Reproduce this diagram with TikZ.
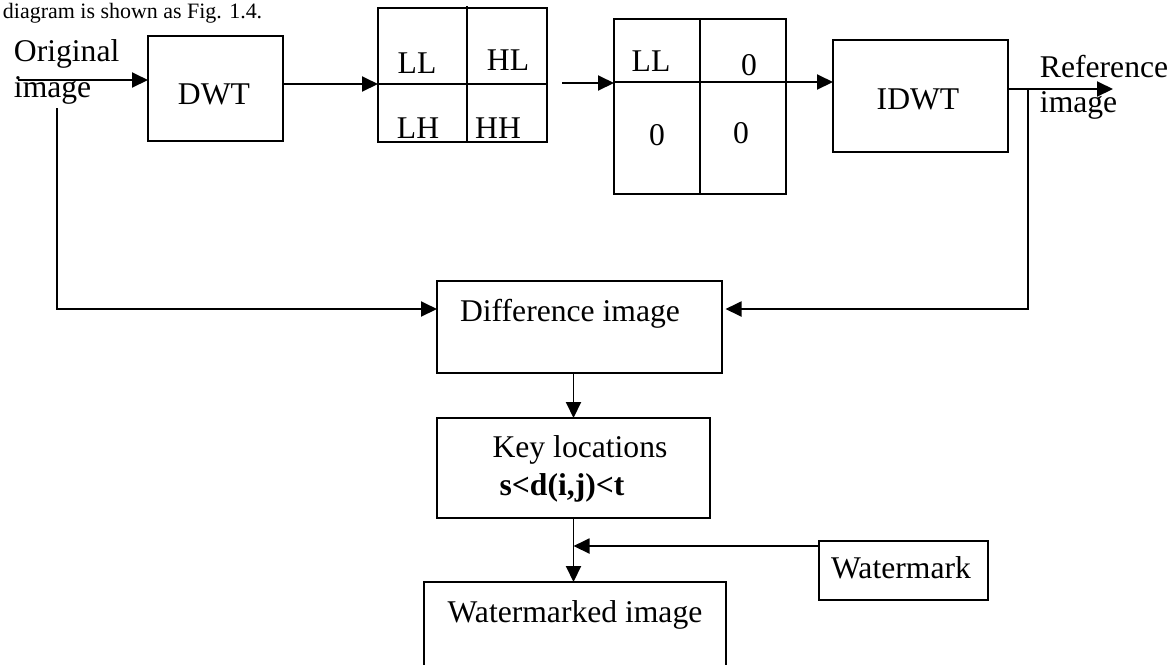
\documentclass[tikz,border=0pt]{standalone}
\usepackage{fontspec}
\setmainfont{Liberation Serif}
\usetikzlibrary{arrows.meta}
\tikzset{every picture/.style={line width=1.1pt}}
\def\pix{0.02cm}
\tikzset{
  box/.style 2 args={draw, inner sep=0pt, outer sep=0pt,
                     minimum width=#1*\pix, minimum height=#2*\pix},
  lbl/.style={anchor=base, inner sep=0pt},
  arr/.style={-{Triangle[length=3.2mm,width=3mm]}},
}

\begin{document}
\begin{tikzpicture}[x=0.02cm, y=-0.02cm, font=\fontsize{18}{20}\selectfont]
  % page, y runs downwards
  \clip (0,0) rectangle (1176,664);
  \useasboundingbox (0,0) rectangle (1176,664);
  % line of the text above
  \node[lbl, anchor=base west, font=\fontsize{12.5}{14}\selectfont] (cap) at (2,18) {diagram is shown as Fig. 1.4.};

  % blocks
  \node[box={135}{105}] (dwt)  at (215.5,88.5) {};
  \node[box={169}{134}] (sub)  at (462.5,75)   {};
  \node[box={172}{175}] (zero) at (700,106.5)  {};
  \node[box={175}{112}] (idwt) at (920.5,96)   {};
  \node[box={285}{92}]  (diff) at (579.5,327)  {};
  \node[box={273}{100}] (key)  at (573.5,468)  {};
  \node[box={169}{59}]  (wm)   at (903.5,570.5) {};
  \node[box={302}{108}] (wmd)  at (575,636)    {};

  % quadrants
  \draw (sub.west |- 0,84) -- (sub.east |- 0,84);
  \draw (467,6) -- (sub.south -| 467,0);
  \draw (zero.west |- 0,82) -- (zero.east |- 0,82);
  \draw (zero.north) -- (zero.south);

  % texts
  \node[lbl] (dwt-t)  at (214,104.5) {DWT};
  \node[lbl] (ll1)    at (417,73)  {LL};
  \node[lbl] (hl1)    at (508,70)  {HL};
  \node[lbl] (lh1)    at (418,138) {LH};
  \node[lbl] (hh1)    at (498,138) {HH};
  \node[lbl] (ll2)    at (651,71)  {LL};
  \node[lbl] (z1)     at (749,75)  {0};
  \node[lbl] (z2)     at (657,145) {0};
  \node[lbl] (z3)     at (741,143) {0};
  \node[lbl] (idwt-t) at (918,109) {IDWT};
  \node[lbl] (diff-t) at (570,321) {Difference image};
  \node[lbl] (key-t)  at (580,457) {Key locations};
  \node[lbl] (rule-t) at (562,495) {\bfseries s<d(i,j)<t};
  \node[lbl] (wm-t)   at (901,578) {Watermark};
  \node[lbl] (wmd-t)  at (575,622) {Watermarked image};
  \node[lbl, anchor=north west, align=left] (orig-t) at (13,39) {Original\\image};
  \node[lbl, anchor=north west, align=left] (ref-t) at (1039,54) {Reference\\image};

  % connectors
  \coordinate (in)   at (18,80);
  \coordinate (gap)  at (562,83);
  \coordinate (out)  at (1113,89);
  \coordinate (tap)  at (1028,89);
  \coordinate (orig) at (57,108);
  \draw[arr] (in) -- (in -| dwt.west);
  \draw[arr] (dwt.east |- 0,84) -- (sub.west |- 0,84);
  \draw[arr] (gap) -- (gap -| zero.west);
  \draw[arr] (zero.east |- 0,82) -- (idwt.west |- 0,82);
  \draw[arr] (idwt.east |- out) -- (out);
  \draw[arr, shorten >=2pt] (tap) |- (diff.east |- 0,309);
  \draw[arr] (orig) |- (diff.west |- 0,309);
  \draw[arr] (key.north |- diff.south) -- (key.north);
  \draw[arr] (key.south) -- (key.south |- wmd.north);
  \draw[arr] (wm.west |- 0,546) -- (key.south |- 0,546);
\end{tikzpicture}
\end{document}
